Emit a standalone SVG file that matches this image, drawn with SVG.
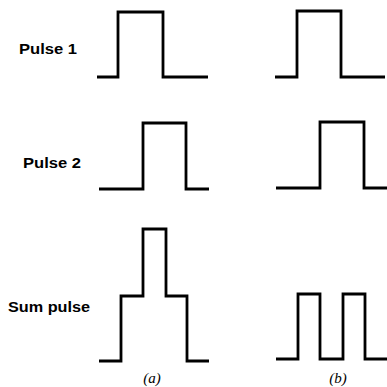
<svg xmlns="http://www.w3.org/2000/svg" width="387" height="387" viewBox="0 0 387 387">
<style>
.w{fill:none;stroke:#000;stroke-width:2.8;stroke-linejoin:miter;stroke-linecap:butt}
.lbl{font-family:"Liberation Sans",Arial,sans-serif;font-weight:bold;font-size:14px;fill:#000}
.cap{font-family:"Liberation Serif","Times New Roman",serif;font-style:italic;font-size:15px;fill:#000;text-anchor:middle}
</style>
<rect width="387" height="387" fill="#fff"/>
<g id="labels">
<text class="lbl" x="19" y="54" textLength="58" lengthAdjust="spacingAndGlyphs">Pulse 1</text>
<text class="lbl" x="23" y="168" textLength="58" lengthAdjust="spacingAndGlyphs">Pulse 2</text>
<text class="lbl" x="8" y="312" textLength="82" lengthAdjust="spacingAndGlyphs">Sum pulse</text>
<text class="cap" x="152" y="383">(a)</text>
<text class="cap" x="338" y="383">(b)</text>
</g>
<g id="pulse1-a"><path class="w" d="M97 77H118V12H163V77H208"/></g>
<g id="pulse1-b"><path class="w" d="M275 77H297V11H341V77H385"/></g>
<g id="pulse2-a"><path class="w" d="M99 189H143V123H186V189H209"/></g>
<g id="pulse2-b"><path class="w" d="M276 188H320V122H364V188H387"/></g>
<g id="sum-a"><path class="w" d="M99 361H121V296H143V229H166V296H187V361H209"/></g>
<g id="sum-b"><path class="w" d="M276 359H298V294H320V359H343V294H365V359H387"/></g>
</svg>
